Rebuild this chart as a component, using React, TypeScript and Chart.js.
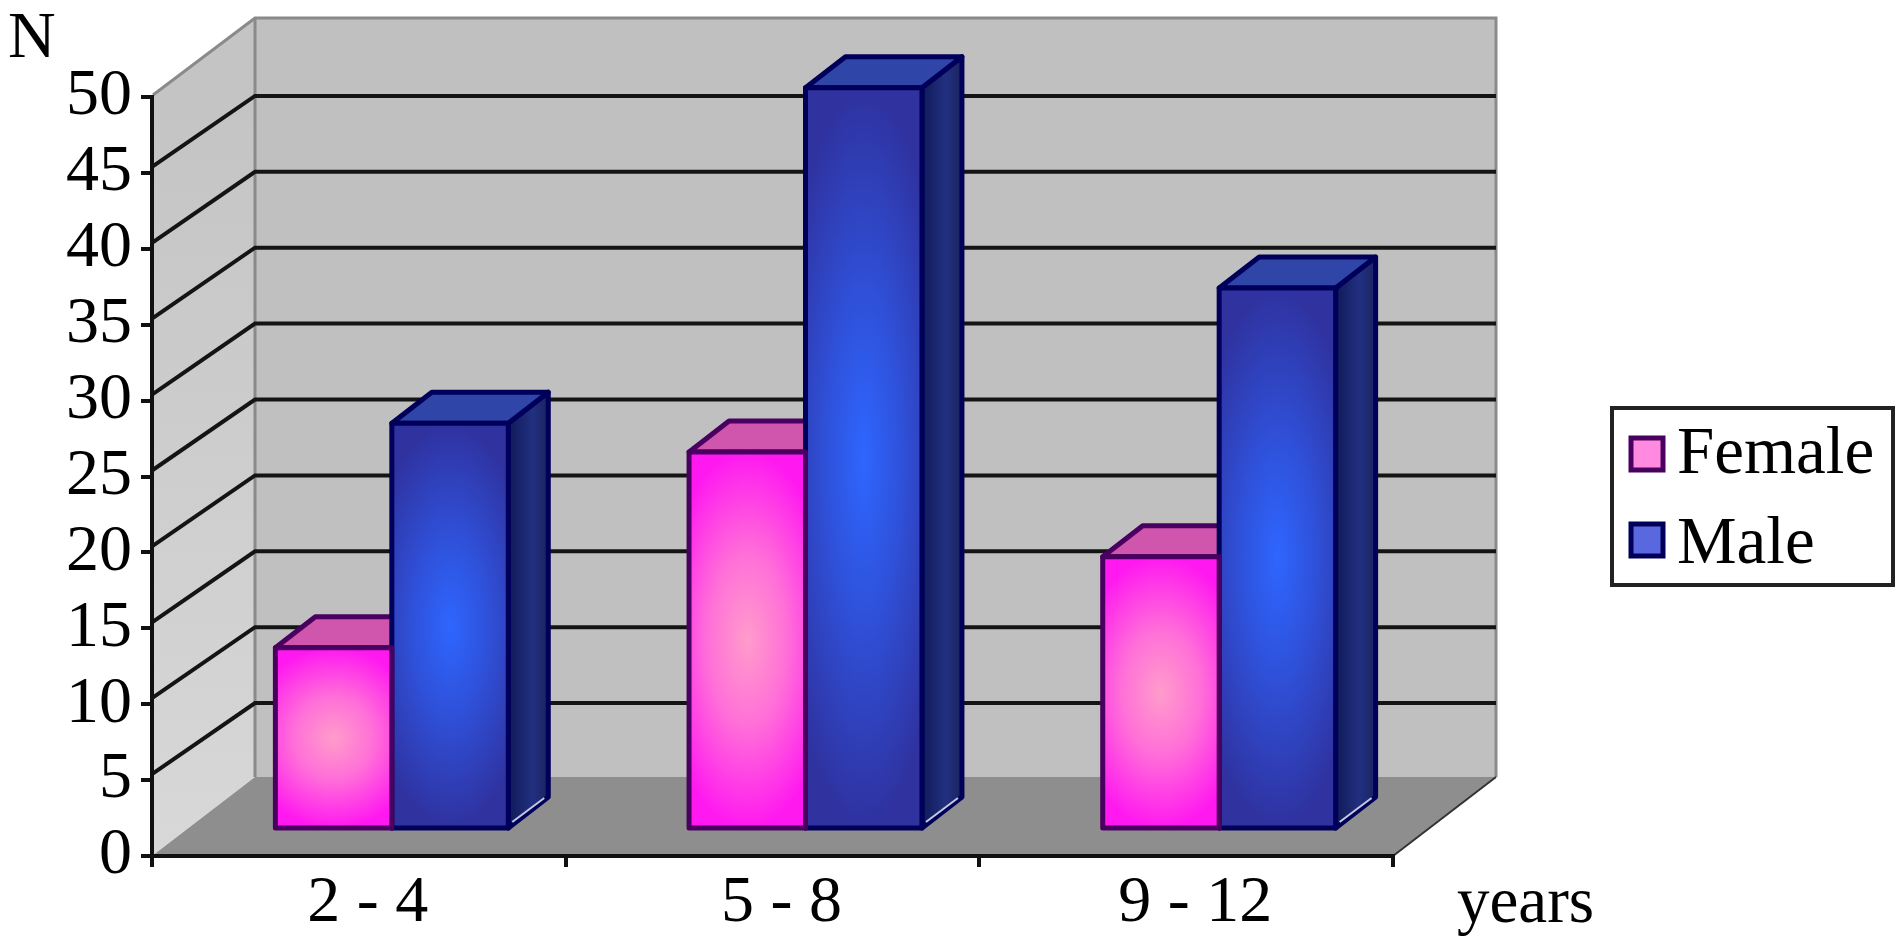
import React, { useEffect, useRef } from "react";
import { Chart, registerables } from "chart.js";

Chart.register(...registerables);

const categories = ["2 - 4", "5 - 8", "9 - 12"];
const female = [12, 24.9, 18];
const male = [26.8, 48.9, 35.7];
const seriesNames = ["Female", "Male"];
const yMin = 0;
const yMax = 50;
const yStep = 5;

const FONT = '"Liberation Serif", serif';
const WALL_DX = 103;
const WALL_DY = 79;
const BAR_SHIFT_X = 33;
const BAR_SHIFT_Y = -26;
const BAR_DX = 40;
const BAR_DY = 31;

const looks = [
  { center: "#ff9ccb", mid: "#ff70d8", edge: "#ff19f0", border: "#4a0060", top: "#cf55ad", side: "#8a2a80" },
  { center: "#2e66ff", mid: "#2f50d8", edge: "#2f329f", border: "#00005a", top: "#2f46a8", side: "#1c2a70" },
];

const poly = (ctx: CanvasRenderingContext2D, pts: number[][], fill?: any, stroke?: string, lw = 2) => {
  ctx.beginPath();
  pts.forEach(([x, y], i) => (i ? ctx.lineTo(x, y) : ctx.moveTo(x, y)));
  ctx.closePath();
  if (fill) {
    ctx.fillStyle = fill;
    ctx.fill();
  }
  if (stroke) {
    ctx.strokeStyle = stroke;
    ctx.lineWidth = lw;
    ctx.lineJoin = "round";
    ctx.stroke();
  }
};

const threeD = {
  id: "threeD",
  beforeDraw(chart: any) {
    const { ctx, scales } = chart;
    const xs = scales.x;
    const ys = scales.y;
    const l = xs.left;
    const r = xs.right;
    const y0 = ys.getPixelForValue(yMin);
    const yT = ys.getPixelForValue(yMax);
    ctx.save();
    ctx.fillStyle = "#ffffff";
    ctx.fillRect(0, 0, chart.width, chart.height);
    poly(ctx, [[l + WALL_DX, yT - WALL_DY], [r + WALL_DX, yT - WALL_DY], [r + WALL_DX, y0 - WALL_DY], [l + WALL_DX, y0 - WALL_DY]], "#c0c0c0");
    const g = ctx.createLinearGradient(0, yT, 0, y0);
    g.addColorStop(0, "#c4c4c4");
    g.addColorStop(1, "#d8d8d8");
    poly(ctx, [[l, yT], [l + WALL_DX, yT - WALL_DY], [l + WALL_DX, y0 - WALL_DY], [l, y0]], g);
    poly(ctx, [[l, y0], [l + WALL_DX, y0 - WALL_DY], [r + WALL_DX, y0 - WALL_DY], [r, y0]], "#8e8e8e");
    ctx.strokeStyle = "#8a8a8a";
    ctx.lineWidth = 3;
    ctx.beginPath();
    ctx.moveTo(l + 1, yT - 2);
    ctx.lineTo(l + WALL_DX, yT - WALL_DY);
    ctx.lineTo(r + WALL_DX, yT - WALL_DY);
    ctx.lineTo(r + WALL_DX, y0 - WALL_DY);
    ctx.moveTo(l + WALL_DX, yT - WALL_DY);
    ctx.lineTo(l + WALL_DX, y0 - WALL_DY);
    ctx.stroke();
    ctx.strokeStyle = "#141414";
    ctx.lineWidth = 4;
    ctx.beginPath();
    ys.ticks.forEach((t: any) => {
      if (t.value <= yMin || t.value >= yMax) return;
      const y = ys.getPixelForValue(t.value);
      ctx.moveTo(l, y - 6);
      ctx.lineTo(l + WALL_DX, y - WALL_DY + 2);
      ctx.lineTo(r + WALL_DX, y - WALL_DY + 2);
    });
    ctx.stroke();
    ctx.strokeStyle = "#333333";
    ctx.lineWidth = 2;
    ctx.beginPath();
    ctx.moveTo(r, y0);
    ctx.lineTo(r + WALL_DX, y0 - WALL_DY);
    ctx.stroke();
    ctx.restore();
  },
  beforeDatasetsDraw(chart: any) {
    const { ctx } = chart;
    ctx.save();
    ctx.translate(BAR_SHIFT_X, BAR_SHIFT_Y);
    chart.data.datasets.forEach((_: any, di: number) => {
      const look = looks[di];
      chart.getDatasetMeta(di).data.forEach((b: any) => {
        const L = b.x - b.width / 2;
        const R = b.x + b.width / 2;
        const T = b.y;
        const B = b.base;
        const sg = ctx.createLinearGradient(R, 0, R + BAR_DX, 0);
        sg.addColorStop(0, di ? "#101a58" : look.side);
        sg.addColorStop(0.6, di ? "#223080" : look.side);
        sg.addColorStop(1, di ? "#1a2260" : look.side);
        poly(ctx, [[R, T], [R + BAR_DX, T - BAR_DY], [R + BAR_DX, B - BAR_DY], [R, B]], sg, look.border, 5);
        poly(ctx, [[L, T], [L + BAR_DX, T - BAR_DY], [R + BAR_DX, T - BAR_DY], [R, T]], look.top, look.border, 5);
        ctx.strokeStyle = "#c4cae0";
        ctx.lineWidth = 2;
        ctx.beginPath();
        ctx.moveTo(R + 4, B - 6);
        ctx.lineTo(R + BAR_DX - 4, B - BAR_DY + 1);
        ctx.stroke();
      });
    });
  },
  afterDatasetDraw(chart: any, args: any) {
    const { ctx } = chart;
    const look = looks[args.index];
    args.meta.data.forEach((b: any) => {
      const w = b.width;
      const h = b.base - b.y;
      const cx = b.x;
      const cy = (b.base + b.y) / 2;
      ctx.save();
      ctx.beginPath();
      ctx.rect(cx - w / 2, cy - h / 2, w, h);
      ctx.clip();
      ctx.translate(cx, cy);
      ctx.scale((w / 2) * 1.5, h / 2);
      const g = ctx.createRadialGradient(0, 0, 0, 0, 0, 1);
      g.addColorStop(0, look.center);
      g.addColorStop(0.45, look.mid);
      g.addColorStop(1, look.edge);
      ctx.fillStyle = g;
      ctx.fillRect(-1, -1, 2, 2);
      ctx.restore();
      ctx.strokeStyle = look.border;
      ctx.lineWidth = 5;
      ctx.lineJoin = "round";
      ctx.strokeRect(cx - w / 2, cy - h / 2, w, h);
    });
  },
  afterDatasetsDraw(chart: any) {
    const { ctx } = chart;
    ctx.restore();
    ctx.save();
    ctx.fillStyle = "#000000";
    ctx.textBaseline = "alphabetic";
    ctx.textAlign = "left";
    ctx.font = `66px ${FONT}`;
    ctx.fillText("N", 8, 57);
    ctx.font = `65px ${FONT}`;
    ctx.fillText("years", 1457, 922);
    ctx.strokeStyle = "#222222";
    ctx.lineWidth = 4;
    ctx.strokeRect(1612, 408, 281, 177);
    const rows = [
      { sw: 438, base: 473 },
      { sw: 524, base: 563 },
    ];
    const fills = ["#ff8ae0", "#5a68e0"];
    chart.data.datasets.forEach((d: any, i: number) => {
      const { sw, base } = rows[i];
      ctx.fillStyle = fills[i];
      ctx.fillRect(1631, sw, 32, 32);
      ctx.strokeStyle = looks[i].border;
      ctx.lineWidth = 5;
      ctx.strokeRect(1631, sw, 32, 32);
      ctx.fillStyle = "#000000";
      ctx.font = `67px ${FONT}`;
      ctx.fillText(d.label, 1677, base);
    });
    ctx.restore();
  },
};

export default function App() {
  const ref = useRef<HTMLCanvasElement>(null);
  useEffect(() => {
    document.body.style.margin = "0";
    const chart = new Chart(ref.current as HTMLCanvasElement, {
      type: "bar",
      data: {
        labels: categories,
        datasets: [
          { label: seriesNames[0], data: female, backgroundColor: looks[0].edge },
          { label: seriesNames[1], data: male, backgroundColor: looks[1].edge },
        ],
      },
      options: {
        responsive: false,
        animation: false,
        layout: { padding: { top: 97, left: 0, right: 507, bottom: 0 } },
        datasets: { bar: { barPercentage: 1, categoryPercentage: 0.563, borderWidth: 0, clip: false } },
        plugins: { legend: { display: false }, tooltip: { enabled: false }, title: { display: false } },
        scales: {
          x: {
            type: "category",
            afterFit: (s: any) => { s.height = 84; },
            grid: { drawOnChartArea: false, drawTicks: true, tickLength: 11, color: "#111111", lineWidth: 4 },
            border: { display: true, color: "#111111", width: 4 },
            ticks: { color: "#000000", font: { family: FONT, size: 66 }, padding: -3, maxRotation: 0, autoSkip: false, labelOffset: 9 },
          },
          y: {
            type: "linear",
            min: yMin,
            max: yMax,
            afterFit: (s: any) => { s.width = 152; },
            grid: { drawOnChartArea: false, drawTicks: true, tickLength: 11, color: "#111111", lineWidth: 4 },
            border: { display: true, color: "#111111", width: 4 },
            ticks: { stepSize: yStep, color: "#000000", font: { family: FONT, size: 66 }, padding: 9, autoSkip: false },
          },
        },
      },
      plugins: [threeD],
    } as any);
    return () => chart.destroy();
  }, []);
  return <canvas ref={ref} width={1900} height={940} style={{ display: "block", position: "absolute", left: 0, top: 0, filter: "blur(0.6px)" }} />;
}
